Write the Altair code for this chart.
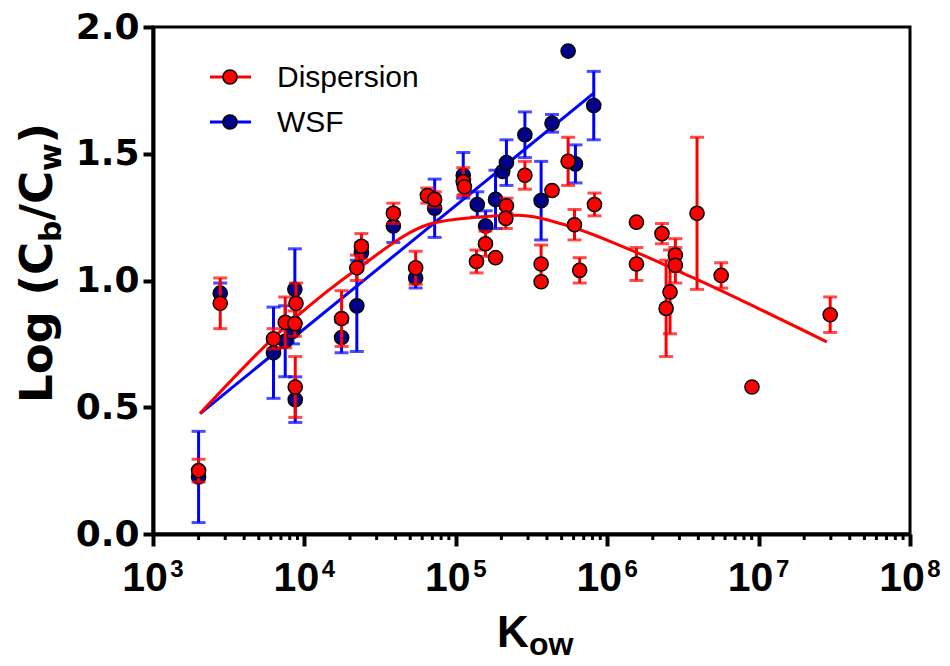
import altair as alt
import pandas as pd

# ---------------- data ----------------
series_names = ["Dispersion", "WSF"]

# Dispersion (red)
kow_d = [2000, 2780, 6250, 7470, 8650, 8800, 8700, 17600, 22200, 23800,
         38700, 54300, 64900, 72500, 112000, 114000, 137000, 157000, 183000, 216000,
         214000, 286000, 366000, 366000, 432000, 552000, 608000, 658000, 824000, 1560000,
         1560000, 2300000, 2820000, 2820000, 2600000, 2450000, 3920000, 5660000, 9040000, 29700000]
y_d = [0.25, 0.91, 0.77, 0.835, 0.83, 0.91, 0.58, 0.85, 1.05, 1.135,
       1.265, 1.05, 1.335, 1.32, 1.39, 1.37, 1.075, 1.145, 1.09, 1.295,
       1.245, 1.415, 1.065, 0.995, 1.355, 1.47, 1.22, 1.04, 1.30, 1.23,
       1.065, 1.185, 1.10, 1.06, 0.955, 0.89, 1.265, 1.02, 0.58, 0.865]
sd_d = [0.045, 0.10, 0.04, 0.10, 0.05, 0.08, 0.12, 0.11, 0.05, 0.05,
        0.04, 0.065, 0.03, 0.03, 0.055, 0.03, 0.045, 0.05, 0, 0.03,
        0.04, 0.055, 0.075, 0, 0, 0.095, 0.06, 0.05, 0.045, 0,
        0.065, 0.04, 0.065, 0.07, 0.165, 0.19, 0.30, 0.05, 0, 0.07]

# WSF (blue)
kow_w = [2000, 2780, 6250, 7470, 8650, 8700, 8400, 17600, 22200, 23800,
         38700, 54300, 72500, 112000, 138600, 157400, 183000, 204000, 216000, 286000,
         366000, 432000, 552000, 617000, 815000]
y_w = [0.225, 0.95, 0.715, 0.76, 0.965, 0.53, 0.80, 0.775, 0.90, 1.11,
       1.215, 1.01, 1.285, 1.415, 1.30, 1.215, 1.32, 1.43, 1.465, 1.575,
       1.315, 1.62, 1.905, 1.46, 1.69]
sd_w = [0.18, 0.04, 0.18, 0.14, 0.16, 0.09, 0.05, 0.06, 0.18, 0.04,
        0.065, 0.04, 0.115, 0.09, 0.05, 0.06, 0.115, 0, 0.09, 0.09,
        0.155, 0.035, 0, 0.075, 0.135]

# fitted curves
fit_kow_d = [2040, 9000, 22400, 68200, 138700, 254700, 543000, 1220000, 3720000, 28200000]
fit_y_d = [0.475, 0.86, 1.046, 1.224, 1.25, 1.257, 1.217, 1.138, 1.01, 0.758]
fit_kow_w = [2050, 815000]
fit_y_w = [0.475, 1.739]

# axis ticks / labels
x_decades = [1e3, 1e4, 1e5, 1e6, 1e7, 1e8]
x_base = ["10"] * 6
x_exp = ["3", "4", "5", "6", "7", "8"]
x_minor = [m * 10 ** e for e in range(3, 8) for m in range(2, 10)]
y_ticks = [0, 0.5, 1.0, 1.5, 2.0]
y_title_parts = ["Log (C", "b", "/C", "w", ")"]
x_title_parts = ["K", "ow"]

RED = "#FF0000"
BLUE = "#0000FF"
NAVY = "#00008B"

# ---------------- chart ----------------
W, H = 757, 507

xscale = alt.Scale(type="log", domain=[1e3, 1e8])
yscale = alt.Scale(domain=[0, 2], nice=False, zero=False)

x_axis = alt.Axis(values=x_decades, labels=False, tickSize=12, tickWidth=4,
                  domainWidth=4, domainColor="black", tickColor="black",
                  grid=False, title=None)
y_axis = alt.Axis(values=y_ticks, format=".1f", labelFont="DejaVu Sans",
                  labelFontWeight="bold", labelFontSize=36, labelColor="black",
                  labelPadding=4, tickSize=10, tickWidth=4, domainWidth=4,
                  domainColor="black", tickColor="black", grid=False, title=None)


def X(field="kow"):
    return alt.X(f"{field}:Q", scale=xscale, axis=x_axis)


def Y(field):
    return alt.Y(f"{field}:Q", scale=yscale, axis=y_axis)


def frame(kow, y, sd):
    df = pd.DataFrame({"kow": kow, "y": y, "sd": sd})
    df["lo"] = df["y"] - df["sd"]
    df["hi"] = df["y"] + df["sd"]
    return df


disp = frame(kow_d, y_d, sd_d)
wsf = frame(kow_w, y_w, sd_w)

PT_SIZE = 200


def series_layers(df, line_df, bar_color, fill_color):
    err = df[df["sd"] > 0]
    rule = alt.Chart(err).mark_rule(color=bar_color, strokeWidth=3).encode(
        x=X(), y=Y("lo"), y2="hi")
    cap_lo = alt.Chart(err).mark_tick(color=bar_color, orient="horizontal",
                                      size=14, thickness=3).encode(x=X(), y=Y("lo"))
    cap_hi = alt.Chart(err).mark_tick(color=bar_color, orient="horizontal",
                                      size=14, thickness=3).encode(x=X(), y=Y("hi"))
    line = alt.Chart(line_df).mark_line(color=bar_color, strokeWidth=3,
                                        interpolate="monotone").encode(x=X(), y=Y("y"))
    pts = alt.Chart(df).mark_point(shape="circle", filled=True, size=PT_SIZE,
                                   fill=fill_color, stroke="black", strokeWidth=1.5,
                                   opacity=1).encode(x=X(), y=Y("y"))
    return [rule, cap_lo, cap_hi, line, pts]


fit_d = pd.DataFrame({"kow": fit_kow_d, "y": fit_y_d})
fit_w = pd.DataFrame({"kow": fit_kow_w, "y": fit_y_w})

layers = []
layers += series_layers(wsf, fit_w, BLUE, NAVY)
layers += series_layers(disp, fit_d, RED, RED)

# minor ticks on the log axis
minor = alt.Chart(pd.DataFrame({"kow": x_minor})).mark_rule(
    color="black", strokeWidth=3).encode(x=X(), y=alt.value(H), y2=alt.value(H + 6))
layers.append(minor)

# x tick labels 10^n
tick_df = pd.DataFrame({"kow": x_decades, "base": x_base, "exp": x_exp})
base_txt = alt.Chart(tick_df).mark_text(font="Liberation Sans", fontWeight="bold",
                                        fontSize=41, align="center", baseline="alphabetic",
                                        dx=-8, color="black").encode(
    x=X(), y=alt.value(H + 57), text="base:N")
exp_txt = alt.Chart(tick_df).mark_text(font="Liberation Sans", fontWeight="bold",
                                       fontSize=24, align="center", baseline="alphabetic",
                                       dx=24, color="black").encode(
    x=X(), y=alt.value(H + 43), text="exp:N")
layers += [base_txt, exp_txt]

# y title with subscripts (rotated, reading bottom to top)
main_f, sub_f = 45, 30
y_parts_pos = [376, 215, 193.5, 144, 116.4]
for i, part in enumerate(y_title_parts):
    sub = i in (1, 3)
    t = alt.Chart(pd.DataFrame({"t": [part]})).mark_text(
        font="DejaVu Sans", fontWeight="bold", fontSize=sub_f if sub else main_f,
        angle=270, align="left", baseline="alphabetic", color="black").encode(
        x=alt.value(-101 + (9 if sub else 0)), y=alt.value(y_parts_pos[i]), text="t:N")
    layers.append(t)

# x title K_ow
kx = alt.Chart(pd.DataFrame({"t": [x_title_parts[0]]})).mark_text(
    font="Liberation Sans", fontWeight="bold", fontSize=44, align="left",
    baseline="alphabetic", color="black").encode(
    x=alt.value(344), y=alt.value(H + 113), text="t:N")
ox = alt.Chart(pd.DataFrame({"t": [x_title_parts[1]]})).mark_text(
    font="Liberation Sans", fontWeight="bold", fontSize=32, align="left",
    baseline="alphabetic", color="black").encode(
    x=alt.value(376), y=alt.value(H + 121), text="t:N")
layers += [kx, ox]

# legend
for i, (name, lc, fc) in enumerate(zip(series_names, [RED, BLUE], [RED, NAVY])):
    ly = 50 + 45 * i
    ldf = pd.DataFrame({"name": [name]})
    layers.append(alt.Chart(ldf).mark_rule(color=lc, strokeWidth=3).encode(
        x=alt.value(57), x2=alt.value(98), y=alt.value(ly)))
    layers.append(alt.Chart(ldf).mark_point(shape="circle", filled=True, size=PT_SIZE,
                                            fill=fc, stroke="black", strokeWidth=1.5,
                                            opacity=1).encode(
        x=alt.value(77), y=alt.value(ly)))
    layers.append(alt.Chart(ldf).mark_text(font="Liberation Sans", fontSize=30,
                                           align="left", baseline="middle",
                                           color="black").encode(
        x=alt.value(124), y=alt.value(ly + 1), text="name:N"))

chart = alt.layer(*layers).properties(
    width=W, height=H,
    padding={"left": 145, "top": 19, "right": 30, "bottom": 130},
    autosize=alt.AutoSizeParams(type="none"),
    background="white",
).configure_view(stroke="black", strokeWidth=3)

chart.save("out.html", embed_options={"renderer": "svg", "actions": False})
